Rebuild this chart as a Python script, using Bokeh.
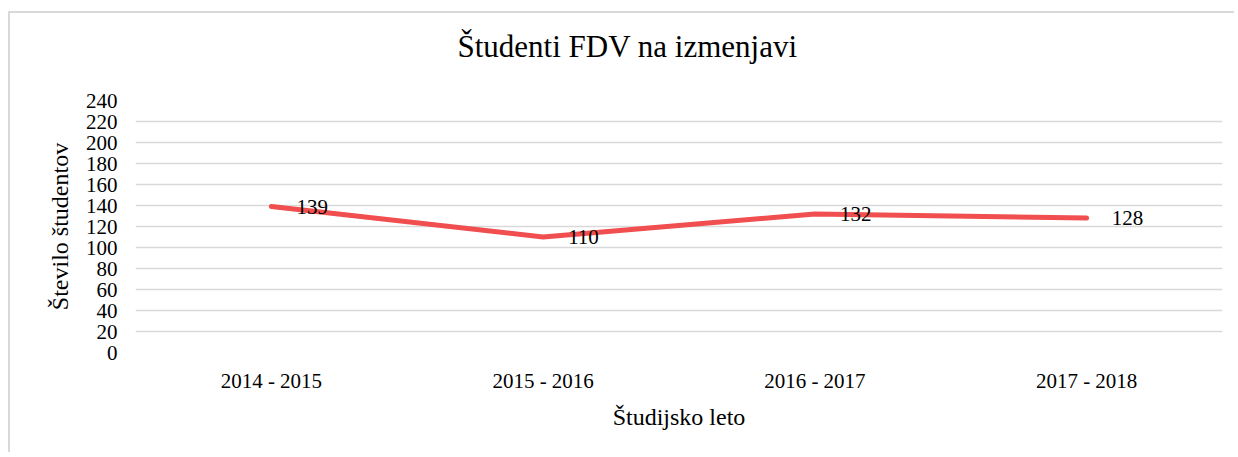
from bokeh.plotting import figure
from bokeh.models import ColumnDataSource, FixedTicker, Range1d, FactorRange, Title
from bokeh.core.properties import value
from bokeh.embed import file_html
from bokeh.resources import INLINE

# ---- data ----
years = ["2014 - 2015", "2015 - 2016", "2016 - 2017", "2017 - 2018"]
students = [139, 110, 132, 128]
labels = [str(v) for v in students]
y_ticks = list(range(0, 241, 20))

title_text = "Študenti FDV na izmenjavi"
x_title = "Študijsko leto"
y_title = "Število študentov"

FONT = "Liberation Serif"
GRID = "#d9d9d9"
RED = "#f04e4f"

src = ColumnDataSource(dict(x=years, y=students, lab=labels))

p = figure(
    width=1226, height=441,
    x_range=FactorRange(factors=years, range_padding=0),
    y_range=Range1d(0, 240),
    output_backend="svg", toolbar_location=None,
    min_border_left=125, min_border_right=14,
    min_border_top=87, min_border_bottom=102,
)
p.styles = {"border-top": "2px solid #d9d9d9", "border-left": "2px solid #d9d9d9",
            "margin-left": "8px", "margin-top": "11px"}
p.outline_line_color = None
p.background_fill_color = "white"
p.border_fill_color = "white"

# spacer between frame and title (closest to the frame), then the real title
spacer = Title(text=" ", text_font=FONT, text_font_size="31px", standoff=0)
p.add_layout(spacer, "above")
t = Title(text=title_text, align="left", offset=322,
          text_font=FONT, text_font_size="31px", text_font_style="normal",
          text_color="black", standoff=0)
p.add_layout(t, "above")

p.line("x", "y", source=src, line_color=RED, line_width=5, line_cap="round", line_join="round")
p.text("x", "y", text="lab", source=src, x_offset=25, text_align="left",
       text_baseline="middle", text_font=value(FONT), text_font_size="21px",
       text_color="black")

# axes
p.yaxis.ticker = FixedTicker(ticks=y_ticks)
for ax in (p.xaxis, p.yaxis):
    ax.axis_line_color = None
    ax.major_tick_line_color = None
    ax.minor_tick_line_color = None
    ax.major_tick_out = 0
    ax.major_tick_in = 0
    ax.major_label_text_font = FONT
    ax.major_label_text_font_size = "21px"
    ax.major_label_text_color = "black"
    ax.axis_label_text_font = FONT
    ax.axis_label_text_font_size = "24px"
    ax.axis_label_text_font_style = "normal"
    ax.axis_label_text_color = "black"

p.xaxis.axis_label = x_title
p.yaxis.axis_label = y_title
p.yaxis.major_label_standoff = 18
p.xaxis.major_label_standoff = 16
p.xaxis.axis_label_standoff = 8
p.yaxis.axis_label_standoff = 10

p.xgrid.grid_line_color = None
p.ygrid.grid_line_color = GRID
p.ygrid.grid_line_width = 1.5

open("out.html", "w").write(file_html(p, INLINE))
